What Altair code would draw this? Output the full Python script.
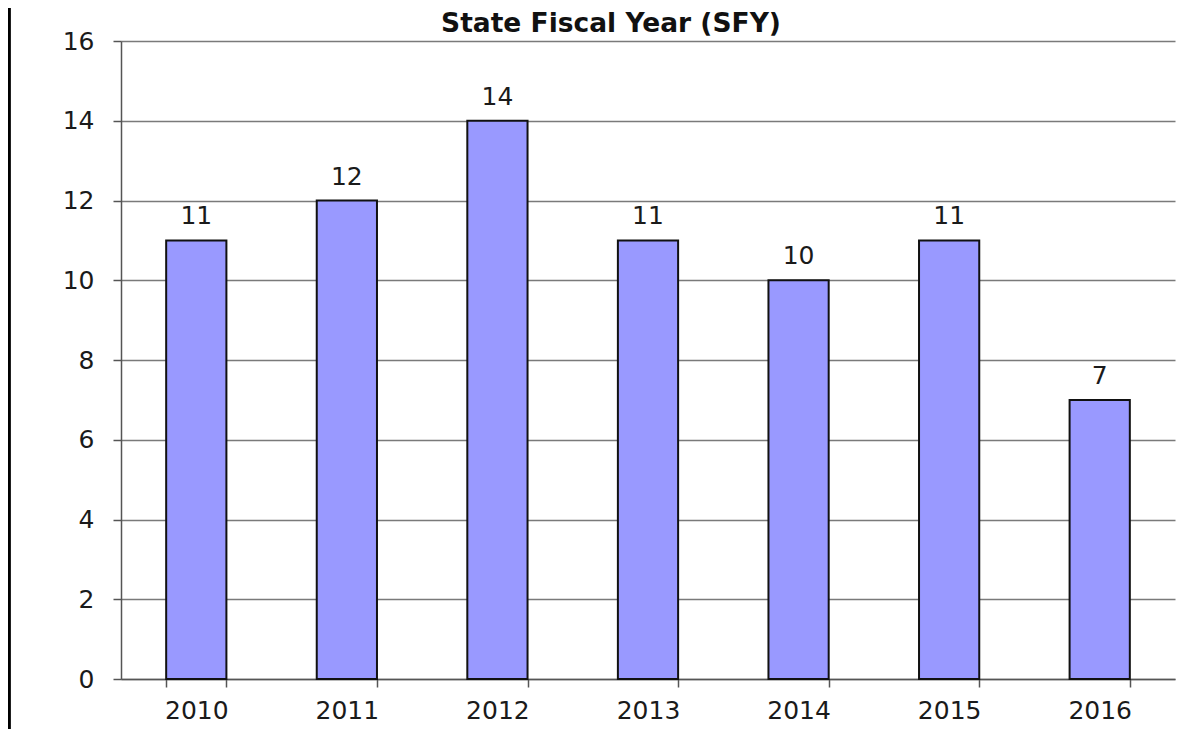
import altair as alt
import pandas as pd

title_text = ["State Fiscal Year (SFY)"]
years = ["2010", "2011", "2012", "2013", "2014", "2015", "2016"]
counts = [11, 12, 14, 11, 10, 11, 7]

df = pd.DataFrame({"year": years, "count": counts})
tdf = pd.DataFrame({"t": title_text})

FONT = "DejaVu Sans"

x = alt.X(
    "year:N",
    sort=years,
    scale=alt.Scale(paddingInner=0.6, paddingOuter=0.3),
    axis=alt.Axis(
        title=None,
        labelAngle=0,
        labelFont=FONT,
        labelFontSize=25,
        labelColor="#1a1a1a",
        labelPadding=11,
        tickBand="extent",
        tickSize=8,
        tickWidth=1.5,
        tickColor="#555555",
        domainColor="#555555",
        domainWidth=1.5,
        grid=False,
    ),
)
y = alt.Y(
    "count:Q",
    scale=alt.Scale(domain=[0, 16]),
    axis=alt.Axis(
        title=None,
        values=[0, 2, 4, 6, 8, 10, 12, 14, 16],
        labelFont=FONT,
        labelFontSize=25,
        labelColor="#1a1a1a",
        labelPadding=19,
        tickSize=8,
        tickWidth=1.5,
        tickColor="#555555",
        domainColor="#555555",
        domainWidth=1.5,
        gridColor="#7a7a7a",
        gridWidth=1.5,
    ),
)

bars = alt.Chart(df).mark_bar(
    color="#9999FF", stroke="#111111", strokeWidth=2
).encode(x=x, y=y)

labels = alt.Chart(df).mark_text(
    font=FONT, fontSize=25, color="#1a1a1a", baseline="alphabetic", dy=-16
).encode(x=alt.X("year:N", sort=years), y="count:Q", text="count:Q")

title = alt.Chart(tdf).mark_text(
    font=FONT, fontSize=26.5, fontWeight="bold", color="#111111",
    baseline="alphabetic", align="center"
).encode(text="t:N", x=alt.value(490), y=alt.value(-9))

border = alt.Chart(df).mark_rule(color="#000000", strokeWidth=2.5).encode(
    x=alt.value(-112), y=alt.value(-40), y2=alt.value(700)
)

chart = (
    alt.layer(bars, labels, title, border)
    .properties(
        width=1054,
        height=638,
        autosize=alt.AutoSizeParams(type="none"),
        padding={"left": 113, "top": 33, "right": 12, "bottom": 50},
    )
    .configure_view(stroke=None)
)

chart.save("out.html", embed_options={"renderer": "svg", "actions": False})
